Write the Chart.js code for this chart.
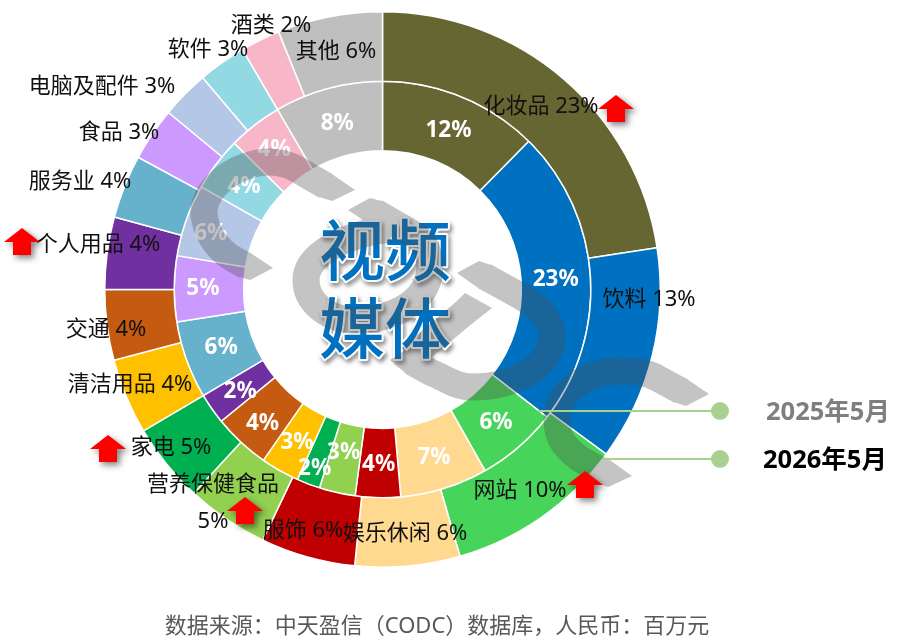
<!DOCTYPE html>
<html><head><meta charset="utf-8">
<style>html,body{margin:0;padding:0;background:#fff}canvas{display:block}</style>
<script src="https://cdn.jsdelivr.net/npm/chart.js@4"></script>
</head><body>
<canvas id="c" width="900" height="643"></canvas>
<script>
const categories = ['化妆品','饮料','网站','娱乐休闲','服饰','营养保健食品','家电','清洁用品','交通','个人用品','服务业','食品','电脑及配件','软件','酒类','其他'];
const share2026 = [22.6,12.5,10.4,6.1,5.5,4.8,4.6,4.4,4.1,4.2,3.7,3.1,2.8,2.8,2.3,6.1];
const share2025 = [12.4,23.1,6.3,6.8,3.5,2.8,1.8,3.0,4.4,2.4,6.0,5.1,5.6,4.2,4.2,8.4];
const sliceColors = ['#666633','#0070C0','#47D45A','#FFD98F','#C00000','#92D050','#00B050','#FFC000','#C55A11','#7030A0','#66B2CC','#CC99FF','#B4C7E7','#92D9E3','#F7B7C9','#BFBFBF'];
const seriesNames = ['2025年5月','2026年5月'];
const centerTitle = ['视频','媒体'];
const sourceNote = '数据来源：中天盈信（CODC）数据库，人民币：百万元';
const risingCategories = ['化妆品','个人用品','家电','营养保健食品','网站'];

const CJK = '"Noto Sans","Noto Sans CJK SC",sans-serif';
const pct = v => Math.round(v) + '%';

/* free-placed outer labels (text centre on the page) */
const outerLabelAt = [[541,107],[649,300],[520,491],[405,534],[303,531],[213,485],[171,448],[130,385],[106,330],[98,245],[80,182],[119,133],[102,87],[208,50],[271,26],[336,52]];
/* nudges for crowded inner labels */
const innerNudge = {5:[-1,-8],6:[-6,15],7:[0,0],8:[-2,5],9:[0,1],10:[2,-3],11:[-6,-2],12:[-8,0],13:[0,0],14:[-2,-5]};
/* arrow tips on the page, one for each rising category */
const arrowTips = [[616,95],[22,228],[108,435],[245,497],[585,471]];

function drawWatermark(ctx){
  const off = document.createElement('canvas'); off.width=900; off.height=643;
  const g = off.getContext('2d');
  const W = 27;
  g.fillStyle=g.strokeStyle='#4c4c4c'; g.lineWidth=W; g.lineCap='butt'; g.lineJoin='round';
  g.beginPath();
  g.moveTo(326,186); g.lineTo(293,167);
  g.bezierCurveTo(277,160,257,160,237,170); g.bezierCurveTo(213,182,200,203,205,220);
  g.bezierCurveTo(208,237,220,250,230,257); g.lineTo(246,266);
  g.moveTo(375,212); g.lineTo(415,235);
  g.bezierCurveTo(430,245,432,265,428,280); g.bezierCurveTo(420,305,390,320,355,320);
  g.bezierCurveTo(325,320,306,300,306,280); g.bezierCurveTo(306,255,345,234,390,229);
  g.moveTo(465,312); g.lineTo(410,358);
  g.moveTo(484,276); g.lineTo(522,297);
  g.bezierCurveTo(540,308,552,320,552,337); g.bezierCurveTo(552,365,515,387,473,387);
  g.bezierCurveTo(455,387,445,378,430,372); g.lineTo(412,362);
  g.moveTo(681,391); g.lineTo(657,378);
  g.bezierCurveTo(645,371,632,371,620,371); g.bezierCurveTo(585,371,557,392,557,420);
  g.bezierCurveTo(557,438,565,448,580,459); g.lineTo(604,472);
  g.stroke();
  /* slanted band ends: stroke end point, direction of travel, two true corners */
  const ends = [
    [[326,186],[.87,.49],[355,190],[332,201]],
    [[246,266],[.87,.49],[273,268],[250,280]],
    [[375,212],[-.87,-.49],[370,198],[348,210]],
    [[465,312],[.76,-.64],[492,308],[465,293]],
    [[484,276],[-.87,-.49],[479,261],[457,273]],
    [[412,362],[-.87,-.49],[413,345],[390,360]],
    [[681,391],[.87,.49],[709,394],[686,406]],
    [[604,472],[.87,.49],[632,476],[608,487]]
  ];
  ends.forEach(([p,d,a,b])=>{
    const back=[p[0]-d[0]*3,p[1]-d[1]*3];
    const n=[-d[1]*W/2,d[0]*W/2];
    let s1=[back[0]+n[0],back[1]+n[1]], s2=[back[0]-n[0],back[1]-n[1]];
    const dist=(u,v)=>Math.hypot(u[0]-v[0],u[1]-v[1]);
    if(dist(s1,a)>dist(s1,b)){const t=s1;s1=s2;s2=t;}
    g.beginPath(); g.moveTo(s1[0],s1[1]); g.lineTo(a[0],a[1]); g.lineTo(b[0],b[1]); g.lineTo(s2[0],s2[1]); g.closePath(); g.fill();
  });
  ctx.save(); ctx.globalAlpha=.33; ctx.drawImage(off,0,0); ctx.restore();
}

const overlay = {
  id:'overlay',
  afterDraw(chart){
    const ctx = chart.ctx;
    const inner = chart.getDatasetMeta(1).data;
    ctx.save();
    ctx.textAlign='center'; ctx.textBaseline='middle';
    ctx.fillStyle='#fff'; ctx.font='bold 22.5px '+CJK;
    inner.forEach((el,i)=>{
      const p = el.tooltipPosition(); const n = innerNudge[i]||[0,0];
      ctx.fillText(pct(share2025[i]), p.x+n[0], p.y+2+n[1]);
    });
    ctx.fillStyle='#111'; ctx.font='22px '+CJK;
    categories.forEach((name,i)=>{
      const [x,y]=outerLabelAt[i];
      if(name==='营养保健食品'){ ctx.fillText(name,x,y); ctx.fillText(pct(share2026[i]),x,y+37); }
      else ctx.fillText(name+' '+pct(share2026[i]),x,y);
    });
    ctx.font='500 66px '+CJK;
    centerTitle.forEach((t,i)=>{
      const y = 256+i*78, x = 385;
      ctx.save();
      ctx.shadowColor='rgba(0,0,0,.5)'; ctx.shadowBlur=4; ctx.shadowOffsetX=2; ctx.shadowOffsetY=3;
      ctx.strokeStyle='#fff'; ctx.lineWidth=4; ctx.lineJoin='round'; ctx.strokeText(t,x,y);
      ctx.restore();
      ctx.fillStyle='#0070C0'; ctx.fillText(t,x,y);
    });
    drawWatermark(ctx);
    const key=[[538,411,'#7F7F7F',766],[602,459,'#000',763]];
    key.forEach((k,i)=>{
      ctx.strokeStyle='#A9D18E'; ctx.lineWidth=2;
      ctx.beginPath(); ctx.moveTo(k[0],k[1]); ctx.lineTo(720,k[1]); ctx.stroke();
      ctx.fillStyle='#A9D18E'; ctx.beginPath(); ctx.arc(720,k[1],9,0,Math.PI*2); ctx.fill();
      ctx.fillStyle=k[2]; ctx.font='bold 25.5px '+CJK; ctx.textAlign='left';
      ctx.fillText(seriesNames[i],k[3],k[1]+2);
    });
    risingCategories.forEach((_,i)=>{
      const [x,y]=arrowTips[i];
      ctx.save();
      ctx.shadowColor='rgba(0,0,0,.5)'; ctx.shadowBlur=6; ctx.shadowOffsetX=3; ctx.shadowOffsetY=3;
      ctx.fillStyle='#FF0000'; ctx.beginPath();
      ctx.moveTo(x,y); ctx.lineTo(x+18,y+14); ctx.lineTo(x+9,y+14); ctx.lineTo(x+9,y+27);
      ctx.lineTo(x-9,y+27); ctx.lineTo(x-9,y+14); ctx.lineTo(x-18,y+14); ctx.closePath(); ctx.fill();
      ctx.restore();
    });
    ctx.textAlign='center'; ctx.fillStyle='#595959'; ctx.font='22px '+CJK;
    ctx.fillText(sourceNote,437,627);
    ctx.restore();
  }
};

new Chart(document.getElementById('c'),{
  type:'doughnut',
  data:{labels:categories,datasets:[
    {label:seriesNames[1],data:share2026,backgroundColor:sliceColors,borderColor:'#fff',borderWidth:1.5},
    {label:seriesNames[0],data:share2025,backgroundColor:sliceColors,borderColor:'#fff',borderWidth:1.5}
  ]},
  options:{responsive:false,animation:false,cutout:'50%',
    layout:{padding:{left:104,right:239,top:11,bottom:75}},
    plugins:{legend:{display:false},tooltip:{enabled:false}}},
  plugins:[overlay]
});
</script>
</body></html>
